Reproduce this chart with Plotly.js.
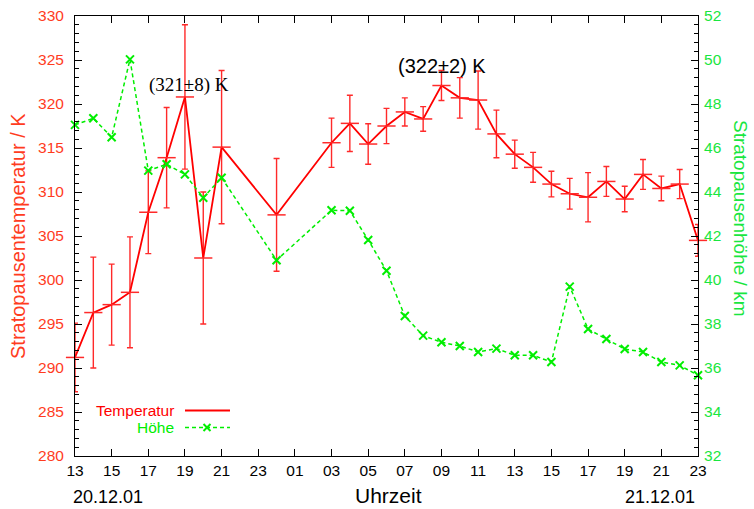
<!DOCTYPE html>
<html>
<head>
<meta charset="utf-8">
<script src="https://cdn.plot.ly/plotly-3.0.1.min.js"></script>
<style>html,body{margin:0;padding:0;background:#fff;}#chart{width:754px;height:509px;}</style>
</head>
<body>
<div id="chart"></div>
<script>
// hours since 20.12.01 13:00
var hours = [0,1,2,3,4,5,6,7,8,11,14,15,16,17,18,19,20,21,22,23,24,25,26,27,28,29,30,31,32,33,34];
var temperature = [291.2,296.3,297.2,298.6,307.7,313.9,320.8,302.5,315.1,307.4,315.6,317.8,315.45,317.5,319.1,318.3,322.1,320.7,320.45,316.6,314.3,312.8,310.9,309.8,309.4,311.2,309.2,312.0,310.4,310.9,304.5];
var temperatureErr = [3.9,6.3,4.6,6.3,4.7,5.7,8.2,7.5,8.7,6.4,2.8,3.2,2.3,2.0,1.6,1.4,1.7,2.3,3.3,2.7,1.6,1.7,1.45,1.75,2.8,1.7,1.45,1.7,1.4,1.65,1.8];
var height = [47.05,47.35,46.49,50.03,44.97,45.26,44.8,43.74,44.65,40.9,43.17,43.15,41.82,40.42,38.36,37.47,37.17,37.0,36.73,36.88,36.58,36.58,36.27,39.70,37.77,37.32,36.86,36.73,36.27,36.12,35.67];
var tickVals = [0,2,4,6,8,10,12,14,16,18,20,22,24,26,28,30,32,34];
var tickLabels = ['13','15','17','19','21','23','01','03','05','07','09','11','13','15','17','19','21','23'];

var RED = '#ff0000';
var GREEN = '#00ee00';
var LEFTCOL = '#ff3c1e';
var RIGHTCOL = '#19e640';
var FONT = 'Liberation Sans, Arial, Helvetica, sans-serif';
var DASH = '4px,3px';

var traces = [
  {
    x: hours, y: height, yaxis: 'y2', type: 'scatter', mode: 'lines+markers',
    line: {color: GREEN, width: 1.5, dash: DASH},
    marker: {symbol: 'x-thin', size: 8, line: {color: GREEN, width: 2}, color: GREEN},
    showlegend: false, cliponaxis: false
  },
  {
    x: hours, y: temperature, type: 'scatter', mode: 'lines+markers',
    line: {color: RED, width: 1.8},
    marker: {symbol: 'line-ew', size: 13, line: {color: '#ff2a2a', width: 1.5}, color: RED},
    error_y: {type: 'data', array: temperatureErr, visible: true, color: '#ff2a2a', thickness: 1.4, width: 3},
    showlegend: false, cliponaxis: false
  }
];

// plot area: l=75, width 623, t=16, height 440
function px(xp){ return (xp - 75) / 623; }
function py(yp){ return (456 - yp) / 440; }

var layout = {
  width: 754, height: 509,
  margin: {l: 75, r: 56, t: 16, b: 53, pad: 0},
  paper_bgcolor: '#ffffff', plot_bgcolor: '#ffffff',
  showlegend: false,
  font: {family: FONT, size: 15, color: '#000'},
  xaxis: {
    range: [0, 34], tickmode: 'array', tickvals: tickVals, ticktext: tickLabels,
    ticks: 'inside', ticklen: 7, tickwidth: 1, tickcolor: '#000',
    showline: true, linecolor: '#000', linewidth: 1, mirror: 'ticks',
    showgrid: false, zeroline: false,
    tickfont: {family: FONT, size: 15.5, color: '#000'}
  },
  yaxis: {
    range: [280, 330], dtick: 5, tick0: 280,
    ticks: 'inside', ticklen: 7, tickwidth: 1, tickcolor: '#000',
    minor: {dtick: 1, ticks: 'inside', ticklen: 4, tickcolor: '#000', showgrid: false},
    showline: true, linecolor: '#000', linewidth: 1,
    showgrid: false, zeroline: false,
    ticklabelstandoff: 7,
    tickfont: {family: FONT, size: 15.5, color: LEFTCOL}
  },
  yaxis2: {
    overlaying: 'y', side: 'right', range: [32, 52], dtick: 2, tick0: 32,
    ticks: 'inside', ticklen: 7, tickwidth: 1, tickcolor: '#000',
    minor: {dtick: 0.4, ticks: 'inside', ticklen: 4, tickcolor: '#000', showgrid: false},
    showline: true, linecolor: '#000', linewidth: 1,
    showgrid: false, zeroline: false,
    ticklabelstandoff: 2,
    tickfont: {family: FONT, size: 15.5, color: RIGHTCOL}
  },
  annotations: [
    {xref: 'paper', yref: 'paper', x: px(18), y: py(236), text: 'Stratopausentemperatur / K', textangle: -90,
     showarrow: false, xanchor: 'center', yanchor: 'middle', font: {family: FONT, size: 20, color: LEFTCOL}},
    {xref: 'paper', yref: 'paper', x: px(741), y: py(218), text: 'Stratopausenhöhe / km', textangle: 90,
     showarrow: false, xanchor: 'center', yanchor: 'middle', font: {family: FONT, size: 19, color: RIGHTCOL}},
    {xref: 'paper', yref: 'paper', x: px(388), y: py(495), text: 'Uhrzeit',
     showarrow: false, xanchor: 'center', yanchor: 'middle', font: {family: FONT, size: 21, color: '#000'}},
    {xref: 'paper', yref: 'paper', x: px(108), y: py(497), text: '20.12.01',
     showarrow: false, xanchor: 'center', yanchor: 'middle', font: {family: FONT, size: 18, color: '#000'}},
    {xref: 'paper', yref: 'paper', x: px(660), y: py(497), text: '21.12.01',
     showarrow: false, xanchor: 'center', yanchor: 'middle', font: {family: FONT, size: 18, color: '#000'}},
    {xref: 'paper', yref: 'paper', x: px(189), y: py(85), text: '(321±8) K',
     showarrow: false, xanchor: 'center', yanchor: 'middle', font: {family: 'Liberation Serif, Times New Roman, serif', size: 19, color: '#000'}},
    {xref: 'paper', yref: 'paper', x: px(442), y: py(66), text: '(322±2) K',
     showarrow: false, xanchor: 'center', yanchor: 'middle', font: {family: FONT, size: 20, color: '#000'}},
    {xref: 'paper', yref: 'paper', x: px(176), y: py(410.5), text: 'Temperatur',
     showarrow: false, xanchor: 'right', yanchor: 'middle', font: {family: FONT, size: 15.5, color: RED}},
    {xref: 'paper', yref: 'paper', x: px(176), y: py(427.5), text: 'Höhe',
     showarrow: false, xanchor: 'right', yanchor: 'middle', font: {family: FONT, size: 15.5, color: GREEN}}
  ],
  shapes: [
    {type: 'line', xref: 'paper', yref: 'paper', x0: px(185), x1: px(230), y0: py(410.5), y1: py(410.5),
     line: {color: RED, width: 1.8}},
    {type: 'line', xref: 'paper', yref: 'paper', x0: px(185), x1: px(230), y0: py(427.5), y1: py(427.5),
     line: {color: GREEN, width: 1.5, dash: DASH}},
    {type: 'line', xref: 'paper', yref: 'paper', xsizemode: 'pixel', ysizemode: 'pixel',
     xanchor: px(207), yanchor: py(427.5), x0: -3.5, x1: 3.5, y0: -3.5, y1: 3.5,
     line: {color: GREEN, width: 2}},
    {type: 'line', xref: 'paper', yref: 'paper', xsizemode: 'pixel', ysizemode: 'pixel',
     xanchor: px(207), yanchor: py(427.5), x0: -3.5, x1: 3.5, y0: 3.5, y1: -3.5,
     line: {color: GREEN, width: 2}}
  ]
};

Plotly.newPlot('chart', traces, layout, {displayModeBar: false, staticPlot: true});
</script>
</body>
</html>
